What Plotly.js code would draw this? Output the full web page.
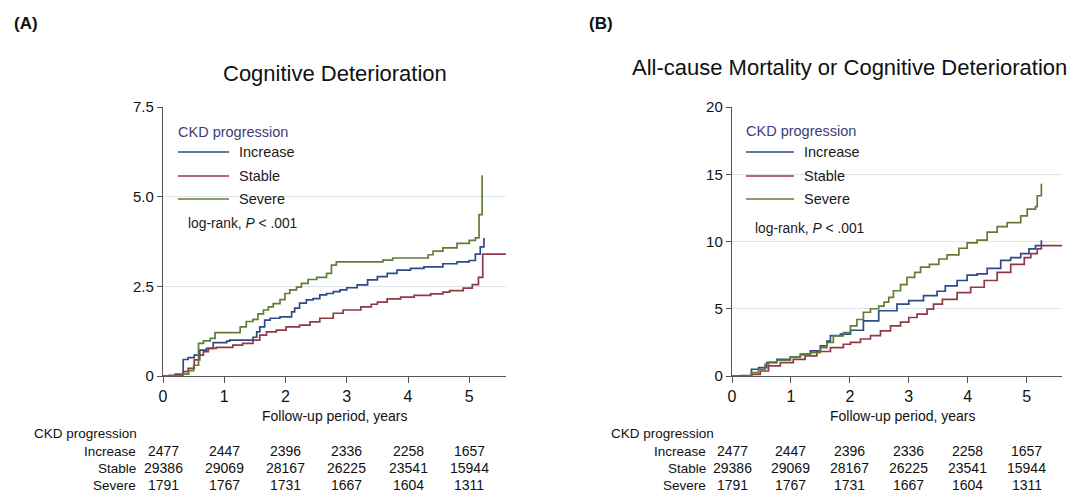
<!DOCTYPE html>
<html><head><meta charset="utf-8">
<script src="https://cdn.plot.ly/plotly-3.0.1.min.js"></script>
<style>html,body{margin:0;padding:0;background:#fff}#chart{width:1084px;height:496px}</style>
</head><body><div id="chart"></div>
<script>
// ---------- data ----------
const groups = ["Increase", "Stable", "Severe"];
const lineColors = ["#2f4a88", "#8e3a44", "#627c36"];

// Panel A: Cognitive Deterioration (cumulative incidence, %)
const A_inc_x = [0, 0.33, 0.41, 0.51, 0.60, 0.71, 0.82, 1.04, 1.09, 1.47, 1.53, 1.58, 1.66, 1.75, 1.91, 2.10, 2.15, 2.23, 2.34, 2.45, 2.56, 2.67, 2.78, 2.89, 3.00, 3.17, 3.34, 3.50, 3.66, 3.82, 4.04, 4.26, 4.57, 4.80, 5.00, 5.10, 5.18, 5.24];
const A_inc_y = [0, 0.46, 0.51, 0.58, 0.72, 0.77, 0.93, 0.97, 1.00, 1.08, 1.23, 1.37, 1.56, 1.61, 1.65, 1.79, 1.89, 2.03, 2.12, 2.16, 2.26, 2.30, 2.35, 2.40, 2.46, 2.54, 2.68, 2.77, 2.86, 2.95, 3.00, 3.04, 3.13, 3.18, 3.22, 3.40, 3.60, 3.85];
const A_sta_x = [0, 0.10, 0.20, 0.33, 0.41, 0.51, 0.60, 0.66, 0.74, 0.87, 1.14, 1.30, 1.47, 1.58, 1.69, 1.85, 2.01, 2.23, 2.40, 2.56, 2.78, 2.94, 3.23, 3.40, 3.50, 3.66, 3.88, 4.10, 4.37, 4.57, 4.68, 4.90, 5.05, 5.15, 5.22, 5.60];
const A_sta_y = [0, 0.02, 0.05, 0.12, 0.21, 0.45, 0.58, 0.68, 0.77, 0.80, 0.86, 0.91, 1.00, 1.14, 1.23, 1.28, 1.37, 1.42, 1.51, 1.61, 1.75, 1.84, 1.93, 2.00, 2.06, 2.15, 2.20, 2.25, 2.29, 2.34, 2.38, 2.45, 2.55, 2.75, 3.40, 3.40];
const A_sev_x = [0, 0.33, 0.42, 0.50, 0.58, 0.66, 0.77, 0.85, 1.26, 1.36, 1.47, 1.55, 1.64, 1.72, 1.80, 1.91, 1.99, 2.07, 2.18, 2.26, 2.37, 2.51, 2.67, 2.75, 2.83, 3.59, 3.75, 4.33, 4.41, 4.57, 4.80, 5.00, 5.10, 5.16, 5.21, 5.22];
const A_sev_y = [0, 0.05, 0.15, 0.30, 0.91, 0.98, 1.05, 1.21, 1.37, 1.52, 1.58, 1.73, 1.84, 1.93, 2.02, 2.13, 2.30, 2.40, 2.48, 2.58, 2.69, 2.75, 2.86, 3.09, 3.18, 3.23, 3.29, 3.38, 3.48, 3.57, 3.70, 3.78, 3.85, 4.50, 5.57, 5.57];

// Panel B: All-cause Mortality or Cognitive Deterioration (%)
const B_inc_x = [0, 0.33, 0.45, 0.59, 0.76, 0.99, 1.16, 1.33, 1.50, 1.61, 1.67, 1.84, 2.01, 2.23, 2.49, 2.80, 3.00, 3.25, 3.48, 3.62, 3.82, 3.99, 4.16, 4.33, 4.56, 4.73, 4.90, 5.04, 5.15, 5.25];
const B_inc_y = [0, 0.50, 0.62, 1.00, 1.24, 1.42, 1.62, 1.87, 2.24, 2.60, 3.00, 3.11, 3.40, 4.10, 4.85, 5.35, 5.60, 5.98, 6.30, 6.70, 7.10, 7.50, 7.60, 8.00, 8.60, 8.80, 9.10, 9.45, 9.70, 10.10];
const B_sta_x = [0, 0.15, 0.33, 0.48, 0.62, 0.82, 1.04, 1.24, 1.44, 1.67, 1.89, 2.01, 2.18, 2.35, 2.52, 2.69, 2.86, 3.00, 3.14, 3.31, 3.42, 3.57, 3.82, 4.05, 4.28, 4.50, 4.73, 4.96, 5.07, 5.18, 5.25, 5.60];
const B_sta_y = [0, 0.03, 0.12, 0.37, 0.75, 1.00, 1.24, 1.49, 1.82, 2.11, 2.36, 2.50, 2.75, 3.00, 3.36, 3.73, 4.00, 4.35, 4.60, 4.97, 5.35, 5.70, 6.20, 6.60, 7.10, 7.70, 8.30, 8.80, 9.10, 9.45, 9.70, 9.70];
const B_sev_x = [0, 0.33, 0.45, 0.56, 0.62, 0.76, 0.99, 1.16, 1.33, 1.50, 1.61, 1.72, 1.89, 2.01, 2.12, 2.23, 2.35, 2.49, 2.58, 2.66, 2.74, 2.86, 2.97, 3.10, 3.20, 3.35, 3.51, 3.65, 3.85, 3.99, 4.16, 4.33, 4.50, 4.67, 4.90, 5.01, 5.15, 5.18, 5.25];
const B_sev_y = [0, 0.25, 0.50, 0.87, 1.04, 1.17, 1.42, 1.57, 1.74, 2.11, 2.49, 2.99, 3.23, 3.73, 4.20, 4.74, 5.00, 5.20, 5.50, 5.85, 6.34, 6.80, 7.34, 7.70, 8.10, 8.30, 8.70, 9.00, 9.50, 9.90, 10.10, 10.70, 11.10, 11.40, 11.90, 12.40, 12.60, 13.40, 14.30];

// axes ticks
const xTicks = [0, 1, 2, 3, 4, 5];
const A_yTicks = [0, 2.5, 5, 7.5];
const A_yTickText = ["0", "2.5", "5.0", "7.5"];
const B_yTicks = [0, 5, 10, 15, 20];
const B_yTickText = ["0", "5", "10", "15", "20"];

// numbers at risk
const riskInc = [2477, 2447, 2396, 2336, 2258, 1657];
const riskSta = [29386, 29069, 28167, 26225, 23541, 15944];
const riskSev = [1791, 1767, 1731, 1667, 1604, 1311];

// texts
const titleA = "Cognitive Deterioration";
const titleB = "All-cause Mortality or Cognitive Deterioration";
const legendTitle = "CKD progression";
const logRank = "log-rank, <i>P</i> < .001";
const xTitle = "Follow-up period, years";

// ---------- layout helpers ----------
const W = 1084, H = 496;
const SANS = "Liberation Sans, Arial, sans-serif";
const fx = p => p / W, fy = p => 1 - p / H;
const axisCol = "#555555", gridCol = "#dde7eb";

function ann(text, xp, yp, size, o = {}) {
  return Object.assign({
    text, x: fx(xp), y: fy(yp), xref: "paper", yref: "paper",
    xanchor: "left", yanchor: "middle", showarrow: false,
    font: {family: SANS, size, color: "#111"}
  }, o);
}

const panels = [
  {xa: "x", ya: "y", series: [[A_inc_x, A_inc_y], [A_sta_x, A_sta_y], [A_sev_x, A_sev_y]],
   title: titleA, titleX: 335, titleY: 74, label: "(A)", labelX: 12,
   legX: 176, legLineX: [178, 229], legTextX: 237, legTitleY: 132, logX: 186, logY: 223,
   tblLeft: 32, tblRight: 138, xTitleX: 335},
  {xa: "x2", ya: "y2", series: [[B_inc_x, B_inc_y], [B_sta_x, B_sta_y], [B_sev_x, B_sev_y]],
   title: titleB, titleX: 849, titleY: 67.5, label: "(B)", labelX: 587,
   legX: 744, legLineX: [746, 794], legTextX: 802, legTitleY: 131, logX: 753, logY: 228,
   tblLeft: 609, tblRight: 708, xTitleX: 903}
];

const traces = [];
const annotations = [];
const shapes = [];
const legItemY = [152, 176, 199];
const tblRowY = [451, 468, 485];
const risk = [riskInc, riskSta, riskSev];

panels.forEach(p => {
  p.series.forEach((s, i) => {
    traces.push({x: s[0], y: s[1], xaxis: p.xa, yaxis: p.ya, type: "scatter", mode: "lines",
      line: {shape: "hv", color: lineColors[i], width: 1.7}, name: groups[i], hoverinfo: "skip"});
  });
  annotations.push(ann(p.title, p.titleX, p.titleY, 22, {xanchor: "center"}));
  annotations.push(ann("<b>" + p.label + "</b>", p.labelX, 24, 17));
  annotations.push(ann(legendTitle, p.legX, p.legTitleY, 14.5, {font: {family: SANS, size: 14.5, color: "#3d3d7a"}}));
  groups.forEach((g, i) => {
    shapes.push({type: "line", xref: "paper", yref: "paper",
      x0: fx(p.legLineX[0]), x1: fx(p.legLineX[1]), y0: fy(legItemY[i]), y1: fy(legItemY[i]),
      line: {color: lineColors[i], width: 1.6}});
    annotations.push(ann(g, p.legTextX, legItemY[i], 14.5, {font: {family: SANS, size: 14.5, color: "#1a1a1a"}}));
  });
  annotations.push(ann(logRank, p.logX, p.logY, 13.8, {font: {family: SANS, size: 13.8, color: "#1a1a1a"}}));
  annotations.push(ann(xTitle, p.xTitleX, 416, 14, {xanchor: "center"}));
  // risk table
  annotations.push(ann(legendTitle, p.tblLeft, 433, 13.5));
  groups.forEach((g, i) => {
    annotations.push(ann(g, p.tblRight, tblRowY[i], 13.5, {xanchor: "right"}));
    xTicks.forEach((t, j) => {
      annotations.push({text: String(risk[i][j]), x: t, xref: p.xa, y: fy(tblRowY[i]), yref: "paper",
        xanchor: "center", yanchor: "middle", showarrow: false, font: {family: SANS, size: 14, color: "#111"}});
    });
  });
});

const yDom = [fy(376), fy(107)];
const xAxisBase = {range: [0, 5.6], tickvals: xTicks, ticks: "outside", ticklen: 6, tickcolor: axisCol,
  showline: true, linecolor: axisCol, linewidth: 1.2, showgrid: false, zeroline: false,
  tickfont: {family: SANS, size: 16, color: "#111"}, fixedrange: true};
const yAxisBase = {ticks: "outside", ticklen: 5, tickcolor: axisCol, showline: true, linecolor: axisCol,
  linewidth: 1.2, showgrid: true, gridcolor: gridCol, gridwidth: 1, zeroline: false,
  tickfont: {family: SANS, size: 15, color: "#111"}, fixedrange: true};

const layout = {
  width: W, height: H, margin: {l: 0, r: 0, t: 0, b: 0}, paper_bgcolor: "#fff", plot_bgcolor: "#fff",
  showlegend: false, hovermode: false,
  xaxis: Object.assign({}, xAxisBase, {domain: [fx(163), fx(506)], anchor: "y"}),
  yaxis: Object.assign({}, yAxisBase, {domain: yDom, range: [0, 7.5], tickvals: A_yTicks, ticktext: A_yTickText, anchor: "x"}),
  xaxis2: Object.assign({}, xAxisBase, {domain: [fx(732), fx(1062)], anchor: "y2"}),
  yaxis2: Object.assign({}, yAxisBase, {domain: yDom, range: [0, 20], tickvals: B_yTicks, ticktext: B_yTickText, anchor: "x2"}),
  annotations, shapes
};

Plotly.newPlot("chart", traces, layout, {staticPlot: true, displayModeBar: false});
</script>
</body></html>
